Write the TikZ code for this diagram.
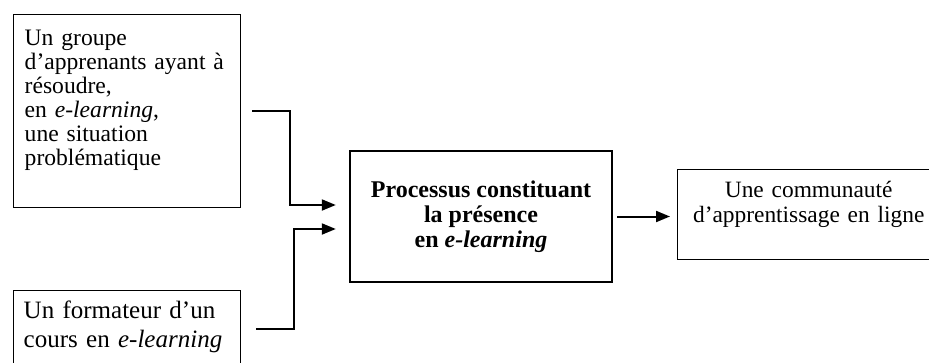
\documentclass[tikz,border=0pt]{standalone}
\usepackage{fontspec}
\setmainfont{Liberation Serif}
\usetikzlibrary{arrows.meta,positioning}

\begin{document}
\begin{tikzpicture}[x=0.5pt,y=-0.5pt, every node/.style={font=\fontsize{12}{12}\selectfont}]
			\tikzstyle{myedgestyle} = [line width=1pt, -{Triangle[length=7pt,width=5.5pt]}]
			\tikzstyle{inbox} = [draw, line width=0.7pt, anchor=north west, inner ysep=0pt, align=left]
			
			\useasboundingbox (0,0) rectangle (929,363);
			\clip (0,0) rectangle (929,363);
			
			\node [inbox, font=\fontsize{11.8}{12}\selectfont, text width=102.5pt, inner xsep=5.5pt, text height=15.5pt, text depth=81pt] (grp) at (13,14) {Un groupe\\d’apprenants ayant à\\résoudre,\\en \emph{e-learning},\\une situation\\problématique};
			\node [inbox, font=\fontsize{12.5}{14.5}\selectfont, text width=103.5pt, inner xsep=5pt, text height=14pt, text depth=28.5pt] (fmt) at (13,290) {Un formateur d’un\\cours en \emph{e-learning}};
			
			\node [draw, line width=1.2pt, minimum width=131pt, minimum height=65.5pt, align=center, font=\fontsize{12}{12.5}\selectfont\bfseries] (proc) at (481,216.5) {Processus constituant\\la présence\\en \emph{e-learning}};
			\node [inbox, align=center, text width=131pt, inner xsep=0pt, text height=14pt, text depth=31pt, font=\fontsize{11.7}{12.5}\selectfont] (com) at (677,169) {Une communauté\\d’apprentissage en ligne};
			
			\draw [myedgestyle, shorten >=6.5pt] ([xshift=5.5pt]grp.east) -- ++(19pt,0) |- ([yshift=5.75pt]proc.west);
			\draw [myedgestyle, shorten >=6.5pt] ([xshift=7.5pt,yshift=2.25pt]fmt.east) -- ++(19pt,0) |- ([yshift=-6.25pt]proc.west);
			\draw [myedgestyle, shorten <=2pt, shorten >=3.5pt] (proc.east) -- (proc.east -| com.west);
			
\end{tikzpicture}
\end{document}
